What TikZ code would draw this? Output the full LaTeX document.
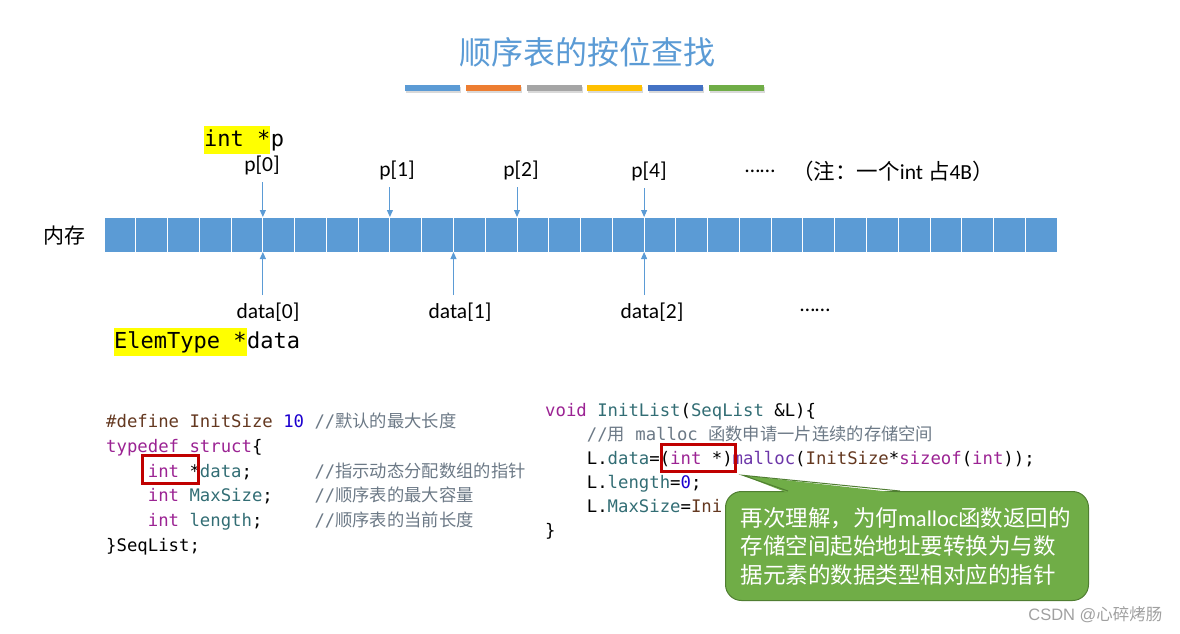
\documentclass[tikz,border=0pt]{standalone}
\usepackage{fontspec}
\setmainfont{Carlito}
\setmonofont{DejaVu Sans Mono}
\newfontfamily\cjk{Noto Sans CJK SC}
\newfontfamily\wmfont{Liberation Sans}
\usepackage{tikz}
\usetikzlibrary{positioning,arrows.meta,shadows}
\definecolor{memblue}{HTML}{5B9BD5}
\definecolor{barorange}{HTML}{ED7D31}
\definecolor{bargray}{HTML}{A5A5A5}
\definecolor{baryellow}{HTML}{FFC000}
\definecolor{bardeep}{HTML}{4472C4}
\definecolor{bargreen}{HTML}{70AD47}
\definecolor{hlyellow}{HTML}{FFFF00}
\definecolor{boxred}{HTML}{C00000}
\definecolor{tipgreen}{HTML}{70AD47}
\definecolor{tipedge}{HTML}{507E32}
\definecolor{kwpurple}{HTML}{9B2393}
\definecolor{ppcbrown}{HTML}{643820}
\definecolor{numblue}{HTML}{1C00CF}
\definecolor{cmtgray}{HTML}{6C7986}
\definecolor{idteal}{HTML}{326D74}
\definecolor{fnpurple}{HTML}{6C36A9}
\definecolor{wmgray}{HTML}{A0A0A0}
\tikzset{
  cell/.style    ={draw=white, line width=1pt, fill=memblue, minimum width=31.77pt,
                   minimum height=35pt, inner sep=0pt, outer sep=0pt},
  ptr/.style     ={-{Triangle[length=7pt,width=6pt]}, draw=memblue, line width=0.9pt,
                   shorten <=4pt},
  idx/.style     ={font=\fontsize{21.5}{24}\selectfont},
  bar/.style     ={minimum width=55pt, minimum height=6pt, inner sep=0pt,
                   drop shadow={shadow xshift=1pt, shadow yshift=-2pt, opacity=0.3}},
  hl/.style      ={fill=hlyellow, inner xsep=0pt, inner ysep=0pt, text height=20.5pt,
                   text depth=8pt, font=\fontsize{22}{26}\selectfont\ttfamily},
  hlrest/.style  ={inner sep=0pt, font=\fontsize{22}{26}\selectfont\ttfamily},
  codeline/.style={anchor=base west, inner sep=0pt, font=\fontsize{17.3}{20}\selectfont\ttfamily},
  redbox/.style  ={draw=boxred, line width=3pt, inner sep=0pt},
  tipbox/.style  ={fill=tipgreen, draw=tipedge, line width=1pt, rounded corners=16pt,
                   text=white, align=left, inner xsep=15pt},
}
\newcommand{\kwd}[1]{\textcolor{kwpurple}{#1}}
\newcommand{\idn}[1]{\textcolor{idteal}{#1}}
\newcommand{\ppc}[1]{\textcolor{ppcbrown}{#1}}
\newcommand{\numc}[1]{\textcolor{numblue}{#1}}
\newcommand{\cmt}[1]{\textcolor{cmtgray}{#1}}
\newcommand{\fnc}[1]{\textcolor{fnpurple}{#1}}
\newcommand{\zh}[1]{{\cjk #1}}

\begin{document}
\begin{tikzpicture}[x=1pt,y=-1pt]
  \useasboundingbox (0,0) rectangle (1180,634);
  \node[font=\fontsize{32}{36}\selectfont\cjk, text=memblue] (title) at (587,52) {顺序表的按位查找};
  \foreach \col [count=\i from 0] in {memblue,barorange,bargray,baryellow,bardeep,bargreen}
    \node[bar, fill=\col] (bar\i) at ({432.5+\i*60.8},88) {};

  % memory row
  \node[font=\fontsize{21}{24}\selectfont\cjk] (mem) at (64,236) {内存};
  \foreach \k in {1,...,30}
    \node[cell] (c\k) at ({104+(\k-0.5)*31.77},234.5) {};

  \foreach \nm/\txt/\cell/\lx/\ly in {pa/p[0]/6/262/165, pb/p[1]/10/397/170,
                                       pc/p[2]/14/521/170, pd/p[4]/18/649/171}{
    \node[idx] (\nm) at (\lx,\ly) {\txt};
    \draw[ptr] (c\cell.north west |- \nm.south) -- (c\cell.north west);
  }
  \foreach \nm/\txt/\cell/\lx in {da/data[0]/6/268, db/data[1]/12/460, dc/data[2]/18/652}{
    \node[idx] (\nm) at (\lx,312) {\txt};
    \draw[ptr] (c\cell.south west |- \nm.north) -- (c\cell.south west);
  }
  \node[idx] (dotsa) at (760,171) {……};
  \node[idx] (note) at (893,171) {\zh{（注：一个}int \zh{占}4B\zh{）}};
  \node[idx] (dotsb) at (815,310) {……};

  \node[hl, anchor=base west] (intp) at (204,146) {int *};
  \node[hlrest, base right=0pt of intp] (pvar) {p};
  \node[hl, anchor=base west] (elem) at (114,348) {ElemType *};
  \node[hlrest, base right=0pt of elem] (dvar) {data};

  % struct definition
  \node[codeline] (la) at (106,427.5) {\ppc{\#define InitSize} \numc{10} \cmt{//\zh{默认的最大长度}}};
  \node[codeline] (lb) at (106,452.3) {\kwd{typedef} \kwd{struct}\{};
  \node[codeline] (lc) at (106,477.1) {~~~~\kwd{int} *\idn{data};~~~~~~\cmt{//\zh{指示动态分配数组的指针}}};
  \node[codeline] (ld) at (106,501.9) {~~~~\kwd{int} \idn{MaxSize};~~~~\cmt{//\zh{顺序表的最大容量}}};
  \node[codeline] (le) at (106,526.7) {~~~~\kwd{int} \idn{length};~~~~~\cmt{//\zh{顺序表的当前长度}}};
  \node[codeline] (lf) at (106,551.5) {\}SeqList;};

  % init function
  \node[codeline] (ra) at (545,416.5) {\kwd{void} \idn{InitList}(\idn{SeqList} \&L)\{};
  \node[codeline] (rb) at (545,440.5) {~~~~\cmt{//\zh{用} malloc \zh{函数申请一片连续的存储空间}}};
  \node[codeline] (rc) at (545,464.5) {~~~~L.\idn{data}=(\kwd{int} *)\fnc{malloc}(\ppc{InitSize}*\kwd{sizeof}(\kwd{int}));};
  \node[codeline] (rd) at (545,488.5) {~~~~L.\idn{length}=\numc{0};};
  \node[codeline] (re) at (545,512.5) {~~~~L.\idn{MaxSize}=\ppc{Ini}};
  \node[codeline] (rf) at (545,536.5) {\}};

  \node[redbox, minimum width=56pt, minimum height=28pt] (boxL) at (170,469.7) {};
  \node[redbox, minimum width=74pt, minimum height=27pt] (boxR) at (698.3,458.3) {};

  \node[tipbox, anchor=north west, minimum height=109pt, text width=333pt,
        font=\fontsize{22.5}{28.5}\selectfont\cjk] (tip) at (725,491)
        {再次理解，为何{\rmfamily malloc}函数返回的\\存储空间起始地址要转换为与数\\据元素的数据类型相对应的指针};
  \coordinate (tipR) at ([xshift=6pt,yshift=-2pt]boxR.south east);
  \fill[tipgreen] (tipR) -- ([xshift=63pt,yshift=-2pt]tip.north west)
                        -- ([xshift=175pt,yshift=-2pt]tip.north west) -- cycle;
  \draw[tipedge, line width=1pt] ([xshift=63pt]tip.north west) -- (tipR)
                                 -- ([xshift=175pt]tip.north west);

  \node[anchor=east, text=wmgray, font=\fontsize{16.5}{20}\selectfont\wmfont] (csdn) at (1166,615)
        {CSDN @\zh{心碎烤肠}};
\end{tikzpicture}
\end{document}
